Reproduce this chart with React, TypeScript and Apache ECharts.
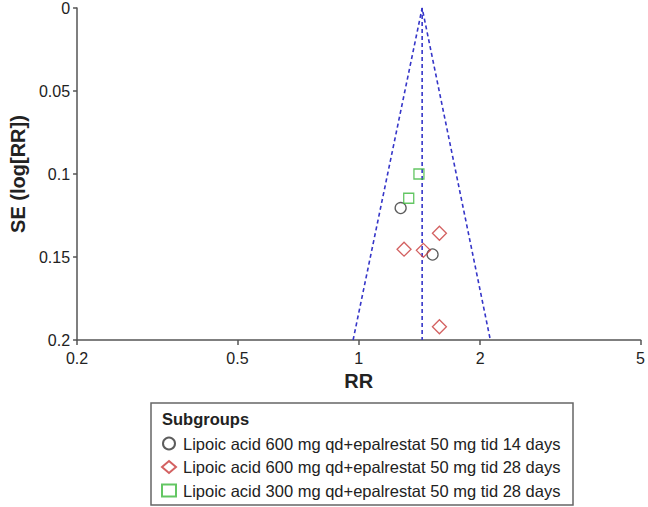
import React, { useEffect, useRef } from "react";
import * as echarts from "echarts";

const xTicks = [0.2, 0.5, 1, 2, 5];
const yTicks = [0, 0.05, 0.1, 0.15, 0.2];

const groupNames = [
  "Lipoic acid 600 mg qd+epalrestat 50 mg tid 14 days",
  "Lipoic acid 600 mg qd+epalrestat 50 mg tid 28 days",
  "Lipoic acid 300 mg qd+epalrestat 50 mg tid 28 days",
];

// [RR, SE]
const group14Points = [
  [1.27, 0.1205],
  [1.524, 0.1485],
];
const group28Points = [
  [1.585, 0.1357],
  [1.295, 0.1453],
  [1.446, 0.146],
  [1.585, 0.192],
];
const group300Points = [
  [1.41, 0.1],
  [1.33, 0.1146],
];

const pooledRR = 1.436;
const funnelPoints = [
  [0.968, 0.2],
  [1.436, 0],
  [2.12, 0.2],
];
const pooledLine = [
  [pooledRR, 0],
  [pooledRR, 0.2],
];

const FONT = "'Liberation Sans', Arial, sans-serif";

const toLog = (pts: number[][]) => pts.map((p) => [Math.log10(p[0]), p[1]]);

export default function App() {
  const ref = useRef<HTMLDivElement>(null);
  useEffect(() => {
    if (!ref.current) return;
    const chart = echarts.init(ref.current, undefined, { renderer: "svg" });
    const blue = "#3535c8";
    const dashed = { color: blue, width: 1.6, type: [4, 3] as any };
    chart.setOption({
      animation: false,
      textStyle: { fontFamily: FONT },
      grid: { left: 70, right: 5, top: 6, bottom: 167, containLabel: false },
      xAxis: {
        type: "value",
        min: Math.log10(xTicks[0]),
        max: Math.log10(xTicks[xTicks.length - 1]),
        name: "RR",
        nameLocation: "middle",
        nameGap: 31,
        nameTextStyle: { fontSize: 20, fontWeight: "bold", color: "#222", fontFamily: FONT },
        axisLine: { onZero: false, lineStyle: { color: "#555", width: 1.5 } },
        axisTick: {
          show: true,
          length: 5,
          lineStyle: { color: "#555", width: 1.5 },
          customValues: xTicks.map((t) => Math.log10(t)),
        },
        axisLabel: {
          customValues: xTicks.map((t) => Math.log10(t)),
          formatter: (v: number) => {
            const r = Math.pow(10, v);
            return String(Math.round(r * 10) / 10);
          },
          fontSize: 16,
          color: "#222",
          margin: 10,
          fontFamily: FONT,
        },
        splitLine: { show: false },
      },
      yAxis: {
        type: "value",
        inverse: true,
        min: yTicks[0],
        max: yTicks[yTicks.length - 1],
        interval: 0.05,
        name: "SE (log[RR])",
        nameLocation: "middle",
        nameGap: 47,
        nameTextStyle: { fontSize: 20, fontWeight: "bold", color: "#222", fontFamily: FONT },
        axisLine: { show: true, onZero: false, lineStyle: { color: "#555", width: 1.5 } },
        axisTick: { show: true, length: 4, lineStyle: { color: "#555", width: 1.5 } },
        axisLabel: { fontSize: 16, color: "#222", margin: 7, fontFamily: FONT },
        splitLine: { show: false },
      },
      legend: {
        orient: "vertical",
        left: 161,
        top: 435,
        itemWidth: 14,
        itemHeight: 12,
        itemGap: 6.5,
        padding: 0,
        textStyle: { fontSize: 16.5, lineHeight: 17, color: "#222", fontFamily: FONT, padding: [0, 0, 0, 2] },
        data: [
          { name: groupNames[0], icon: "circle" },
          { name: groupNames[1], icon: "diamond" },
          { name: groupNames[2], icon: "rect" },
        ],
      },
      graphic: [
        {
          type: "rect",
          shape: { x: 151, y: 403, width: 422, height: 102 },
          style: { fill: "none", stroke: "#666", lineWidth: 1.5 },
          silent: true,
        },
        {
          type: "text",
          x: 162,
          y: 410,
          style: { text: "Subgroups", font: `bold 16.5px ${FONT}`, fill: "#222" },
          silent: true,
        },
      ],
      series: [
        {
          type: "line",
          data: toLog(funnelPoints),
          symbol: "none",
          lineStyle: dashed,
          silent: true,
          z: 1,
        },
        {
          type: "line",
          data: toLog(pooledLine),
          symbol: "none",
          lineStyle: dashed,
          silent: true,
          z: 1,
        },
        {
          name: groupNames[0],
          type: "scatter",
          symbol: "circle",
          symbolSize: 11,
          data: toLog(group14Points),
          itemStyle: { color: "rgba(255,255,255,0)", borderColor: "#333", borderWidth: 1.3 },
          z: 3,
        },
        {
          name: groupNames[1],
          type: "scatter",
          symbol: "diamond",
          symbolSize: 14,
          data: toLog(group28Points),
          itemStyle: { color: "rgba(255,255,255,0)", borderColor: "#c83a3a", borderWidth: 1.3 },
          z: 3,
        },
        {
          name: groupNames[2],
          type: "scatter",
          symbol: "rect",
          symbolSize: 10,
          data: toLog(group300Points),
          itemStyle: { color: "rgba(255,255,255,0)", borderColor: "#3cb83c", borderWidth: 1.3 },
          z: 3,
        },
      ],
    });
    return () => chart.dispose();
  }, []);
  return <div ref={ref} style={{ width: 648, height: 507, position: "absolute", left: 0, top: 0, background: "#fff" }} />;
}
